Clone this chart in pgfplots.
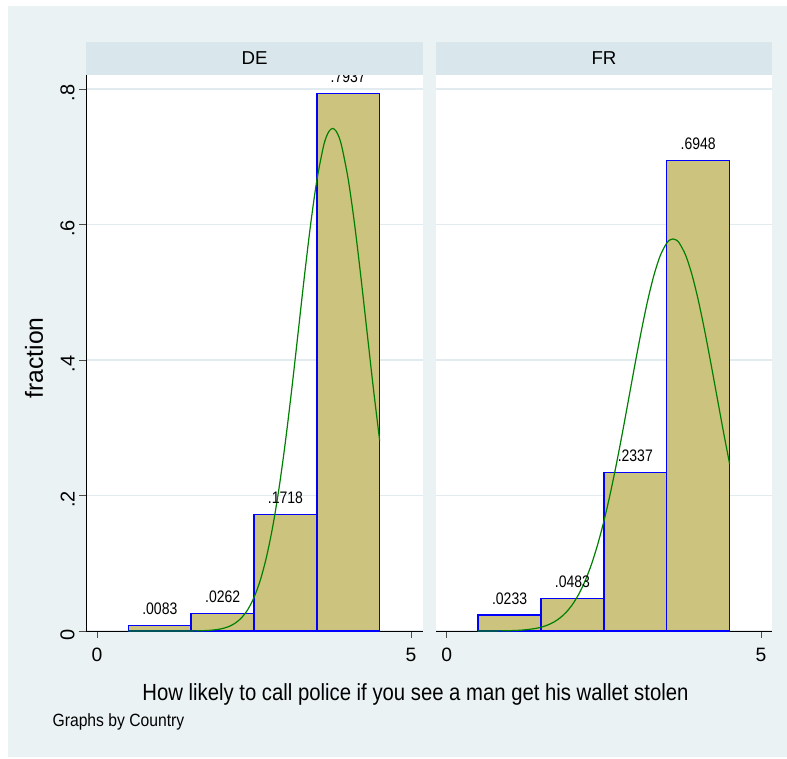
\documentclass[border=0pt]{standalone}
\usepackage{pgfplots}
\pgfplotsset{compat=1.18}
\usepackage{fontspec}
\setmainfont{Liberation Sans}
\newfontfamily\lblfont{Liberation Sans}[FakeStretch=0.84]
\newfontfamily\xlfont{Liberation Sans}[FakeStretch=0.87]
\newfontfamily\gbfont{Liberation Sans}[FakeStretch=0.885]
\definecolor{bgout}{RGB}{234,242,243}
\definecolor{strip}{RGB}{217,230,235}
\definecolor{gridc}{RGB}{226,235,240}
\definecolor{barfill}{RGB}{204,195,127}
\definecolor{curvec}{RGB}{0,128,0}
\pgfplotsset{
  panel/.style={
    anchor=south west, scale only axis, height=417pt,
    ymin=0, ymax=0.8207,
    axis background/.style={fill=white},
    axis x line*=bottom, axis y line*=left,
    xtick={0,5}, ytick={0,0.2,0.4,0.6,0.8}, yticklabels={0,.2,.4,.6,.8},
    ymajorgrids, grid style={gridc, line width=0.8pt},
    tick align=outside, major tick length=5pt,
    tick style={black!70, line width=0.6pt},
    axis line style={black, line width=0.75pt},
    xticklabel style={font=\fontsize{14.5}{16}\selectfont, yshift=-4.5pt},
    yticklabel style={font=\fontsize{15}{17}\selectfont, rotate=90, anchor=south, xshift=-3pt},
    /pgf/number format/assume math mode=true,
  },
  barstyle/.style={ybar, bar width=1, bar shift=0pt, fill=barfill, draw=blue, line width=1.1pt,
    point meta=explicit symbolic, nodes near coords,
    every node near coord/.style={font=\lblfont\fontsize{12.5}{14}\selectfont, text=black, inner sep=0pt, anchor=south, yshift=7.5pt}},
  curvestyle/.style={curvec, line width=0.9pt, mark=none, smooth, tension=0.5},
}
\pgfplotstableread{
x y
0.5 0
1.0 0.000002
1.2 0.00001
1.4 0.00005
1.5 0.000116
1.6 0.00025
1.7 0.00052
1.8 0.00103
1.9 0.00199
2.0 0.0037
2.1 0.00667
2.2 0.0116
2.3 0.01947
2.4 0.03162
2.5 0.0496
2.6 0.0751
2.7 0.1100
2.8 0.1554
2.9 0.2122
3.0 0.2798
3.1 0.3566
3.2 0.4390
3.3 0.5220
3.4 0.5995
3.5 0.6653
3.6 0.7132
3.65 0.7293
3.7 0.7385
3.75 0.7418
3.8 0.7387
3.85 0.7297
3.9 0.7138
4.0 0.6664
4.1 0.6009
4.2 0.5234
4.3 0.4405
4.4 0.3580
4.5 0.2811
}\curveDE
\pgfplotstableread{
x y
0.5 0.000023
0.8 0.00015
1.0 0.00047
1.2 0.00135
1.4 0.00355
1.5 0.00558
1.6 0.0086
1.7 0.01296
1.8 0.01912
1.9 0.02764
2.0 0.03911
2.1 0.0542
2.2 0.0736
2.3 0.0977
2.4 0.1272
2.5 0.1619
2.6 0.2020
2.7 0.2467
2.8 0.2950
2.9 0.3455
3.0 0.3962
3.1 0.4447
3.2 0.4890
3.3 0.5263
3.4 0.5548
3.5 0.5726
3.55 0.5772
3.6 0.5787
3.65 0.5772
3.7 0.5727
3.8 0.5549
3.9 0.5265
4.0 0.4891
4.1 0.4450
4.2 0.3963
4.3 0.3457
4.4 0.2952
4.5 0.2469
}\curveFR
\begin{document}
\begin{tikzpicture}
\fill[white] (0pt,0pt) rectangle (590.25pt,568.5pt);
\fill[bgout] (6pt,0.75pt) rectangle (590.25pt,564pt);
\begin{axis}[panel, at={(64.5pt,95.25pt)}, width=252.75pt, xmin=-0.175, xmax=5.19]
\addplot[barstyle] coordinates {(1,0.0083) [.0083] (2,0.0262) [.0262] (3,0.1718) [.1718] (4,0.7937) [.7937]};
\addplot[curvestyle] table[x=x,y=y] {\curveDE};
\end{axis}
\begin{axis}[panel, at={(327pt,95.25pt)}, width=252pt, xmin=-0.17, xmax=5.175,
  yticklabels={}, y axis line style={draw=none}, ytick style={draw=none}]
\addplot[barstyle] coordinates {(1,0.0233) [.0233] (2,0.0483) [.0483] (3,0.2337) [.2337] (4,0.6948) [.6948]};
\addplot[curvestyle] table[x=x,y=y] {\curveFR};
\end{axis}
\fill[strip] (64.5pt,512.25pt) rectangle (317.25pt,537pt);
\node[font=\fontsize{14}{16}\selectfont] at (190.9pt,524.6pt) {DE};
\fill[strip] (327pt,512.25pt) rectangle (579pt,537pt);
\node[font=\fontsize{14}{16}\selectfont] at (453pt,524.6pt) {FR};
\node[font=\xlfont\fontsize{17.5}{20}\selectfont, anchor=base] at (311.6pt,43.5pt) {How likely to call police if you see a man get his wallet stolen};
\node[font=\gbfont\fontsize{13.3}{15}\selectfont, anchor=base west, inner sep=0pt] at (39.25pt,23.5pt) {Graphs by Country};
\node[rotate=90, font=\fontsize{18.5}{20}\selectfont] at (25.5pt,300pt) {fraction};
\end{tikzpicture}
\end{document}
